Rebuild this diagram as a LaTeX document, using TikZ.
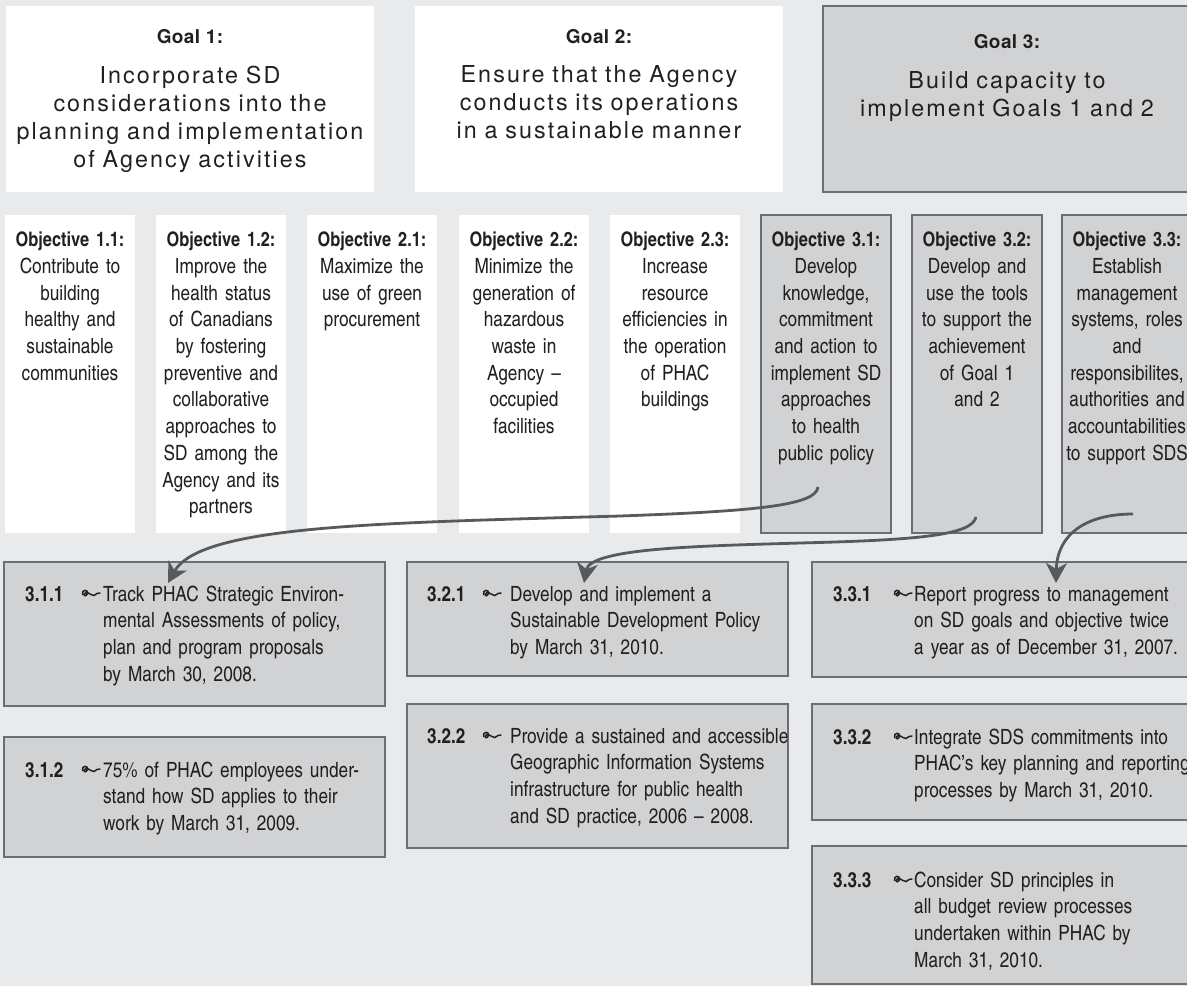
\documentclass[tikz,border=0pt]{standalone}
\usepackage{fontspec}
\usetikzlibrary{arrows.meta}
\newfontfamily\goalfont{texgyreheros}[Extension=.otf,UprightFont=*-regular,LetterSpace=9]
\newfontfamily\goalbold{texgyreheros}[Extension=.otf,UprightFont=*-bold,LetterSpace=2]
\newfontfamily\cnd{texgyreheroscn}[Extension=.otf,UprightFont=*-regular,BoldFont=*-bold]
\definecolor{bgc}{HTML}{E9EAEC}
\definecolor{boxg}{HTML}{D1D2D4}
\definecolor{edge}{HTML}{6D6E71}
\definecolor{ink}{HTML}{231F20}
\definecolor{arr}{HTML}{58595B}
\tikzset{
  wbox/.style={fill=white, draw=none, anchor=north west, inner sep=0, outer sep=0},
  gbox/.style={fill=boxg, draw=edge, line width=2.2pt, anchor=north west, inner sep=0, outer sep=0},
  goalt/.style={font=\goalbold\fontsize{19}{22}\selectfont, text=ink, anchor=base, inner sep=0},
  goalb/.style={font=\goalfont\fontsize{23.3}{28.3}\selectfont, text=ink, align=center, text width=430pt, anchor=base, inner sep=0},
  objt/.style={font=\cnd\fontsize{21}{26.7}\selectfont, text=ink, align=center, text width=150pt, anchor=base, inner sep=0},
  numt/.style={font=\cnd\bfseries\fontsize{21}{26.7}\selectfont, text=ink, anchor=base west, inner sep=0},
  itxt/.style={font=\cnd\fontsize{21}{26.7}\selectfont, text=ink, align=left, text width=300pt, anchor=base west, inner sep=0},
  link/.style={draw=arr, line width=2.8pt, -{Stealth[length=20pt,width=21pt,inset=6pt]}},
  leafmark/.pic={\draw[ink, line width=1.5pt, line cap=round]
     (0.5,0.5) .. controls (-0.5,-4.5) and (6,-5) .. (5.5,-1)
     .. controls (5,2.5) and (1.5,2.5) .. (2.5,0)
     .. controls (3.5,-2.5) and (7,-1.5) .. (9,0.5)
     .. controls (11,2.5) and (13,1.5) .. (15,-0.5) -- (18,-1);}
}
\newcommand{\ob}[1]{{\bfseries\fontsize{20}{26.7}\selectfont #1}}
\begin{document}
\begin{tikzpicture}[x=1pt,y=-1pt]
\clip (0,0) rectangle (1187,986);
\fill[bgc] (0,0) rectangle (1187,986);

% goals
\node[wbox, minimum width=368pt, minimum height=186pt] (g1) at (6,6) {};
\node[wbox, minimum width=368pt, minimum height=186pt] (g2) at (415,6) {};
\node[gbox, minimum width=368pt, minimum height=186pt] (g3) at (823,6) {};
\node[goalt] (g1t) at (190,43) {Goal 1:};
\node[goalb] (g1b) at (190,83) {Incorporate SD\\considerations into the\\planning and implementation\\of Agency activities};
\node[goalt] (g2t) at (599,43) {Goal 2:};
\node[goalb] (g2b) at (599,82) {Ensure that the Agency\\conducts its operations\\in a sustainable manner};
\node[goalt] (g3t) at (1007,48) {Goal 3:};
\node[goalb] (g3b) at (1007,88) {Build capacity to\\implement Goals 1 and 2};

% objectives
\node[wbox, minimum width=130pt, minimum height=318pt] (o11) at (5,215) {};
\node[wbox, minimum width=130pt, minimum height=318pt] (o12) at (156,215) {};
\node[wbox, minimum width=130pt, minimum height=318pt] (o21) at (307,215) {};
\node[wbox, minimum width=130pt, minimum height=318pt] (o22) at (459,215) {};
\node[wbox, minimum width=130pt, minimum height=318pt] (o23) at (610,215) {};
\node[gbox, minimum width=130pt, minimum height=318pt] (o31) at (761,215) {};
\node[gbox, minimum width=130pt, minimum height=318pt] (o32) at (912,215) {};
\node[gbox, minimum width=130pt, minimum height=318pt] (o33) at (1062,215) {};

\node[objt] (o11t) at (70,246.7) {\ob{Objective 1.1:}\\Contribute to\\building\\healthy and\\sustainable\\communities};
\node[objt] (o12t) at (221,246.7) {\ob{Objective 1.2:}\\Improve the\\health status\\of Canadians\\by fostering\\preventive and\\collaborative\\approaches to\\SD among the\\Agency and its\\partners};
\node[objt] (o21t) at (372,246.7) {\ob{Objective 2.1:}\\Maximize the\\use of green\\procurement};
\node[objt] (o22t) at (524,246.7) {\ob{Objective 2.2:}\\Minimize the\\generation of\\hazardous\\waste in\\Agency –\\occupied\\facilities};
\node[objt] (o23t) at (675,246.7) {\ob{Objective 2.3:}\\Increase\\resource\\efficiencies in\\the operation\\of PHAC\\buildings};
\node[objt] (o31t) at (826,246.7) {\ob{Objective 3.1:}\\Develop\\knowledge,\\commitment\\and action to\\implement SD\\approaches\\to health\\public policy};
\node[objt] (o32t) at (977,246.7) {\ob{Objective 3.2:}\\Develop and\\use the tools\\to support the\\achievement\\of Goal 1\\and 2};
\node[objt] (o33t) at (1127,246.7) {\ob{Objective 3.3:}\\Establish\\management\\systems, roles\\and\\responsibilites,\\authorities and\\accountabilities\\to support SDS};

% targets
\node[gbox, minimum width=381pt, minimum height=144pt] (b311) at (4,562) {};
\node[gbox, minimum width=381pt, minimum height=120pt] (b312) at (4,737) {};
\node[gbox, minimum width=381pt, minimum height=114pt] (b321) at (407,562) {};
\node[gbox, minimum width=381pt, minimum height=144pt] (b322) at (407,704) {};
\node[gbox, minimum width=385pt, minimum height=115pt] (b331) at (812,562) {};
\node[gbox, minimum width=385pt, minimum height=116pt] (b332) at (812,704) {};
\node[gbox, minimum width=385pt, minimum height=138pt] (b333) at (812,846) {};

\node[numt] (n311) at (25,601) {3.1.1};
\node[numt] (n312) at (25,777) {3.1.2};
\node[numt] (n321) at (427,601) {3.2.1};
\node[numt] (n322) at (427,743) {3.2.2};
\node[numt] (n331) at (833,601) {3.3.1};
\node[numt] (n332) at (833,744) {3.3.2};
\node[numt] (n333) at (833,887) {3.3.3};

\pic at (82,594) {leafmark};
\pic at (82,770) {leafmark};
\pic at (483,594) {leafmark};
\pic at (483,736) {leafmark};
\pic at (894,594) {leafmark};
\pic at (894,737) {leafmark};
\pic at (894,880) {leafmark};

\node[itxt] (t311) at (103,601) {Track PHAC Strategic Environ-\\mental Assessments of policy,\\plan and program proposals\\by March 30, 2008.};
\node[itxt] (t312) at (103,777) {75\% of PHAC employees under-\\stand how SD applies to their\\work by March 31, 2009.};
\node[itxt] (t321) at (510,601) {Develop and implement a\\Sustainable Development Policy\\by March 31, 2010.};
\node[itxt] (t322) at (510,743) {Provide a sustained and accessible\\Geographic Information Systems\\infrastructure for public health\\and SD practice, 2006 – 2008.};
\node[itxt] (t331) at (914,601) {Report progress to management\\on SD goals and objective twice\\a year as of December 31, 2007.};
\node[itxt] (t332) at (914,744) {Integrate SDS commitments into\\PHAC’s key planning and reporting\\processes by March 31, 2010.};
\node[itxt] (t333) at (914,887) {Consider SD principles in\\all budget review processes\\undertaken within PHAC by\\March 31, 2010.};

% connectors
\coordinate (s1) at (818,487);
\coordinate (e1) at (168,583);
\coordinate (s2) at (976,517);
\coordinate (e2) at (584,583);
\coordinate (s3) at (1133,514);
\coordinate (e3) at (1056,583);
\draw[link] (s1) .. controls (816,505) and (760,511) .. (620,516)
   .. controls (380,523) and (200,525) .. (e1);
\draw[link] (s2) .. controls (972,535) and (920,540) .. (800,543)
   .. controls (700,546) and (590,548) .. (e2);
\draw[link] (s3) .. controls (1085,514) and (1057,535) .. (e3);
\end{tikzpicture}
\end{document}
